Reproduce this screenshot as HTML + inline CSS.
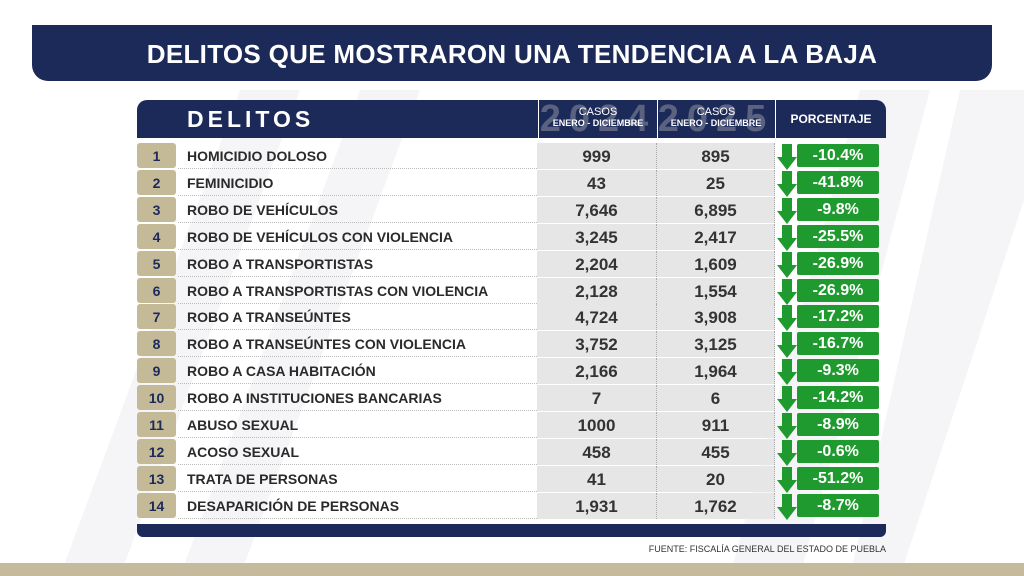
<!DOCTYPE html><html><head><meta charset="utf-8"><style>
body{margin:0;width:1024px;height:576px;background:#fff;position:relative;overflow:hidden;font-family:"Liberation Sans",sans-serif;}
.abs{position:absolute}
.title{left:32px;top:25px;width:960px;height:56px;background:#1c2a5a;border-radius:0 0 16px 16px;color:#fff;font-weight:bold;font-size:26px;text-align:center;line-height:58px;letter-spacing:0.3px}
.hdr{left:137px;top:100px;width:749px;height:38px;background:#1c2a5a;border-radius:10px 10px 0 0}
.row{position:absolute;left:137px;width:749px;height:26px}
.num{position:absolute;left:0;width:39px;height:25px;background:#c4ba98;color:#1c2a5a;font-weight:bold;font-size:14px;text-align:center;line-height:26px;border-radius:3px}
.name{position:absolute;left:41px;width:359px;height:26px;border-bottom:1px dotted #bbb;color:#2a2a2a;font-weight:bold;font-size:14px;line-height:27px;padding-left:9px;box-sizing:border-box}
.c{position:absolute;height:26px;background:#e6e6e6;color:#333;font-weight:bold;font-size:17px;text-align:center;line-height:27px;border-right:1px dotted #aaa;box-sizing:border-box}
.arr{position:absolute;left:640px;top:1px;width:20px;height:26px}
.pct{position:absolute;left:660px;top:1px;width:82px;height:23px;background:#1f9a2f;color:#fff;font-weight:bold;font-size:16px;text-align:center;line-height:24px;border-radius:2px}
</style></head><body>
<svg class="abs" style="left:0;top:0" width="1024" height="576"><g fill="#f5f5f7"><polygon points="180,576 240,576 420,90 360,90"/><polygon points="60,576 120,576 300,90 240,90"/><polygon points="860,90 930,90 800,576 730,576"/><polygon points="960,90 1024,90 1024,200 900,576 850,576"/></g></svg>
<div class="abs title">DELITOS QUE MOSTRARON UNA TENDENCIA A LA BAJA</div>
<div class="abs hdr"></div>
<div class="abs" style="left:187px;top:106px;color:#fff;font-weight:bold;font-size:23px;letter-spacing:4px">DELITOS</div>
<div class="abs" style="left:538px;top:100px;width:118px;height:38px;border-left:1px solid #fff;border-right:1px solid #fff;text-align:center;color:#fff"><div style="position:absolute;left:0;top:-2px;width:118px;font-size:38px;font-weight:bold;color:#5a6280;letter-spacing:8px">2024</div><div style="position:relative;font-size:11px;margin-top:6px">CASOS</div><div style="position:relative;font-size:9px;font-weight:bold">ENERO - DICIEMBRE</div></div>
<div class="abs" style="left:657px;top:100px;width:118px;height:38px;border-right:1px solid #fff;text-align:center;color:#fff"><div style="position:absolute;left:0;top:-2px;width:118px;font-size:38px;font-weight:bold;color:#5a6280;letter-spacing:8px">2025</div><div style="position:relative;font-size:11px;margin-top:6px">CASOS</div><div style="position:relative;font-size:9px;font-weight:bold">ENERO - DICIEMBRE</div></div>
<div class="abs" style="left:776px;top:112px;width:110px;text-align:center;color:#fff;font-weight:bold;font-size:12px">PORCENTAJE</div>
<div id="rows"></div>
<div class="abs" style="left:137px;top:524px;width:749px;height:13px;background:#1c2a5a;border-radius:0 0 6px 6px"></div>
<div class="abs" style="left:600px;top:544px;width:286px;text-align:right;font-size:9px;color:#333">FUENTE: FISCALÍA GENERAL DEL ESTADO DE PUEBLA</div>
<div class="abs" style="left:0;top:563px;width:1024px;height:13px;background:#c5bb9c"></div>
<script>
var d=[["HOMICIDIO DOLOSO","999","895","-10.4%"],["FEMINICIDIO","43","25","-41.8%"],["ROBO DE VEHÍCULOS","7,646","6,895","-9.8%"],["ROBO DE VEHÍCULOS CON VIOLENCIA","3,245","2,417","-25.5%"],["ROBO A TRANSPORTISTAS","2,204","1,609","-26.9%"],["ROBO A TRANSPORTISTAS CON VIOLENCIA","2,128","1,554","-26.9%"],["ROBO A TRANSEÚNTES","4,724","3,908","-17.2%"],["ROBO A TRANSEÚNTES CON VIOLENCIA","3,752","3,125","-16.7%"],["ROBO A CASA HABITACIÓN","2,166","1,964","-9.3%"],["ROBO A INSTITUCIONES BANCARIAS","7","6","-14.2%"],["ABUSO SEXUAL","1000","911","-8.9%"],["ACOSO SEXUAL","458","455","-0.6%"],["TRATA DE PERSONAS","41","20","-51.2%"],["DESAPARICIÓN DE PERSONAS","1,931","1,762","-8.7%"]];
var h="";d.forEach(function(r,i){var y=143+i*26.9;h+='<div class="row" style="top:'+y+'px"><div class="num">'+(i+1)+'</div><div class="name">'+r[0]+'</div><div class="c" style="left:400px;width:120px">'+r[1]+'</div><div class="c" style="left:520px;width:118px">'+r[2]+'</div><svg class="arr" viewBox="0 0 20 26"><path d="M5 0h10v13h5L10 26 0 13h5z" fill="#1f9a2f"/></svg><div class="pct">'+r[3]+'</div></div>';});
document.getElementById("rows").innerHTML=h;
</script>
</body></html>
